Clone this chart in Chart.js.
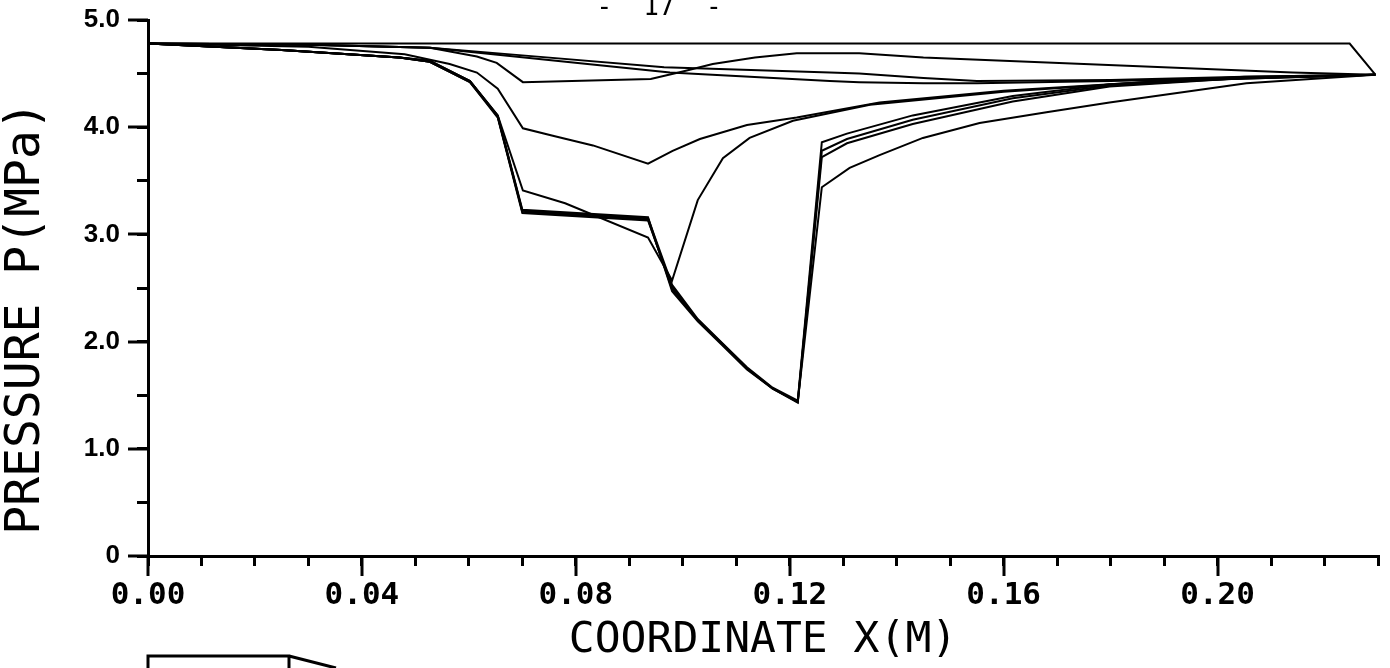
<!DOCTYPE html>
<html><head><meta charset="utf-8">
<script src="https://cdn.jsdelivr.net/npm/chart.js@4.4.0/dist/chart.umd.min.js"></script>
<style>html,body{margin:0;padding:0;background:#fff;}</style>
</head><body>
<canvas id="c" width="1390" height="668"></canvas>
<script>
// ---- tick labels ----
const xTickLabels = ['0.00','0.04','0.08','0.12','0.16','0.20'];
const yTickLabels = ['0','1.0','2.0','3.0','4.0','5.0'];

// ---- pressure profiles (x in m, p in MPa) ----
const curveA_x = [0, 0.2247, 0.2295];
const curveA_y = [4.78, 4.78, 4.49];

const curveC_x = [0, 0.03, 0.0527, 0.0615, 0.0652, 0.0701, 0.094, 0.100, 0.1056, 0.1135, 0.1213, 0.133, 0.145, 0.175, 0.214, 0.2295];
const curveC_y = [4.78, 4.77, 4.74, 4.66, 4.60, 4.42, 4.45, 4.52, 4.59, 4.65, 4.69, 4.69, 4.65, 4.59, 4.51, 4.49];

const curveD1_x = [0, 0.03, 0.0527, 0.0976, 0.1275, 0.133, 0.145, 0.155, 0.18, 0.205, 0.2295];
const curveD1_y = [4.78, 4.77, 4.74, 4.51, 4.43, 4.42, 4.41, 4.41, 4.43, 4.46, 4.49];

const curveD2_x = [0, 0.03, 0.0527, 0.070, 0.0965, 0.1275, 0.133, 0.145, 0.155, 0.18, 0.205, 0.2295];
const curveD2_y = [4.78, 4.77, 4.74, 4.67, 4.56, 4.51, 4.50, 4.46, 4.43, 4.44, 4.47, 4.49];

const curveE_x = [0, 0.03, 0.048, 0.0564, 0.0615, 0.0654, 0.0701, 0.0757, 0.0832, 0.0935, 0.0981, 0.1032, 0.112, 0.1213, 0.1368, 0.16, 0.19, 0.2295];
const curveE_y = [4.78, 4.75, 4.68, 4.59, 4.51, 4.36, 3.99, 3.92, 3.83, 3.66, 3.78, 3.89, 4.02, 4.09, 4.23, 4.34, 4.43, 4.49];

const curveF_x = [0, 0.025, 0.047, 0.0527, 0.0602, 0.0654, 0.0701, 0.078, 0.0935, 0.098, 0.1028, 0.1075, 0.1125, 0.1206, 0.135, 0.16, 0.19, 0.2295];
const curveF_y = [4.78, 4.72, 4.65, 4.61, 4.43, 4.11, 3.41, 3.29, 2.97, 2.57, 3.32, 3.71, 3.90, 4.06, 4.21, 4.33, 4.43, 4.49];

const curveG_x = [0, 0.025, 0.047, 0.0527, 0.0602, 0.0654, 0.0700, 0.0935, 0.098, 0.1028, 0.1073, 0.112, 0.1168, 0.1215, 0.126, 0.1307, 0.143, 0.1617, 0.1798, 0.205, 0.2295];
const curveG1_y = [4.78, 4.72, 4.65, 4.61, 4.42, 4.09, 3.20, 3.13, 2.51, 2.20, 1.985, 1.75, 1.565, 1.435, 3.72, 3.85, 4.03, 4.24, 4.38, 4.46, 4.49];
const curveG2_y = [4.78, 4.72, 4.65, 4.62, 4.43, 4.11, 3.23, 3.16, 2.47, 2.19, 1.97, 1.74, 1.56, 1.43, 3.78, 3.89, 4.07, 4.27, 4.39, 4.46, 4.49];
const curveG3_y = [4.78, 4.72, 4.65, 4.62, 4.43, 4.10, 3.22, 3.15, 2.53, 2.21, 1.99, 1.76, 1.57, 1.45, 3.86, 3.94, 4.11, 4.29, 4.40, 4.47, 4.49];

const curveH_x = [0, 0.025, 0.047, 0.0527, 0.0602, 0.0654, 0.0700, 0.0935, 0.098, 0.1028, 0.1073, 0.112, 0.1168, 0.1215, 0.126, 0.1312, 0.1368, 0.1449, 0.1555, 0.168, 0.1798, 0.2054, 0.2295];
const curveH_y = [4.78, 4.72, 4.65, 4.61, 4.42, 4.10, 3.21, 3.14, 2.49, 2.20, 1.98, 1.75, 1.56, 1.44, 3.44, 3.62, 3.74, 3.90, 4.04, 4.14, 4.23, 4.41, 4.49];

const profiles = [
  [curveA_x, curveA_y], [curveC_x, curveC_y], [curveD1_x, curveD1_y], [curveD2_x, curveD2_y],
  [curveE_x, curveE_y], [curveF_x, curveF_y], [curveG_x, curveG1_y], [curveG_x, curveG2_y],
  [curveG_x, curveG3_y], [curveH_x, curveH_y]
];

const datasets = profiles.map(([xs, ys], i) => ({
  label: 'profile ' + (i + 1),
  data: xs.map((x, j) => ({x: x, y: ys[j]})),
  borderColor: '#000',
  borderWidth: 2,
  pointRadius: 0,
  tension: 0,
  fill: false
}));

const decor = {
  id: 'decor',
  afterDraw(chart) {
    const ctx = chart.ctx;
    const xs = chart.scales.x, ys = chart.scales.y;
    const a = chart.chartArea;
    ctx.save();
    ctx.strokeStyle = '#000';
    ctx.fillStyle = '#000';
    ctx.lineWidth = 3;
    // longer major ticks
    for (let k = 0; k < xTickLabels.length; k++) {
      const px = Math.round(xs.getPixelForValue(k * 0.04));
      ctx.beginPath(); ctx.moveTo(px, a.bottom); ctx.lineTo(px, a.bottom + 20); ctx.stroke();
    }
    for (let k = 0; k < yTickLabels.length; k++) {
      const py = Math.round(ys.getPixelForValue(k));
      ctx.beginPath(); ctx.moveTo(a.left, py); ctx.lineTo(a.left - 20, py); ctx.stroke();
    }
    // y axis title
    ctx.save();
    ctx.translate(27, 318);
    ctx.rotate(-Math.PI / 2);
    ctx.font = '48px "DejaVu Sans Mono"';
    ctx.textAlign = 'center';
    ctx.textBaseline = 'middle';
    ctx.fillText('PRESSURE P(MPa)', 0, 0);
    ctx.restore();
    // page number at top (cut by the top edge)
    ctx.font = '26px "DejaVu Sans Mono"';
    ctx.textAlign = 'center';
    ctx.textBaseline = 'alphabetic';
    ctx.fillText('-  17  -', 659, 15);
    // start of the sketch below the chart
    const x0 = Math.round(xs.getPixelForValue(0));
    ctx.beginPath();
    ctx.moveTo(x0, 668); ctx.lineTo(x0, 656); ctx.lineTo(289, 656); ctx.lineTo(289, 668);
    ctx.moveTo(289, 656); ctx.lineTo(336, 668);
    ctx.stroke();
    ctx.restore();
  }
};

new Chart(document.getElementById('c'), {
  type: 'line',
  data: { datasets: datasets },
  plugins: [decor],
  options: {
    responsive: false,
    animation: false,
    devicePixelRatio: 1,
    layout: { padding: { left: 0, right: 12, top: 20, bottom: 0 } },
    plugins: { legend: { display: false }, tooltip: { enabled: false } },
    scales: {
      x: {
        type: 'linear', min: 0, max: 0.23,
        border: { display: true, color: '#000', width: 3 },
        grid: { display: true, drawOnChartArea: false, drawTicks: true, tickLength: 10, tickWidth: 3, tickColor: '#000', color: '#000', lineWidth: 3 },
        ticks: {
          stepSize: 0.01, autoSkip: false, maxRotation: 0, minRotation: 0, padding: 11, color: '#000',
          font: { family: 'DejaVu Sans Mono', size: 31, weight: 'bold' },
          callback: (v) => { const k = Math.round(v * 100); return (k % 4 === 0) ? xTickLabels[k / 4] : ''; }
        },
        title: { display: true, text: 'COORDINATE X(M)', color: '#000', font: { family: 'DejaVu Sans Mono', size: 43 }, padding: { top: 0, bottom: 1 } },
        afterFit: (s) => { s.height = 112; }
      },
      y: {
        type: 'linear', min: 0, max: 5,
        border: { display: true, color: '#000', width: 3 },
        grid: { display: true, drawOnChartArea: false, drawTicks: true, tickLength: 11, tickWidth: 3, tickColor: '#000', color: '#000', lineWidth: 3 },
        ticks: {
          stepSize: 0.5, autoSkip: false, padding: 17, color: '#000',
          font: { family: 'Liberation Sans', size: 26, weight: 'bold' },
          callback: (v) => { const k = Math.round(v * 2); return (k % 2 === 0) ? yTickLabels[k / 2] : ''; }
        },
        afterFit: (s) => { s.width = 148; s.paddingTop = 0; s.paddingBottom = 0; }
      }
    }
  }
});
</script>
</body></html>
